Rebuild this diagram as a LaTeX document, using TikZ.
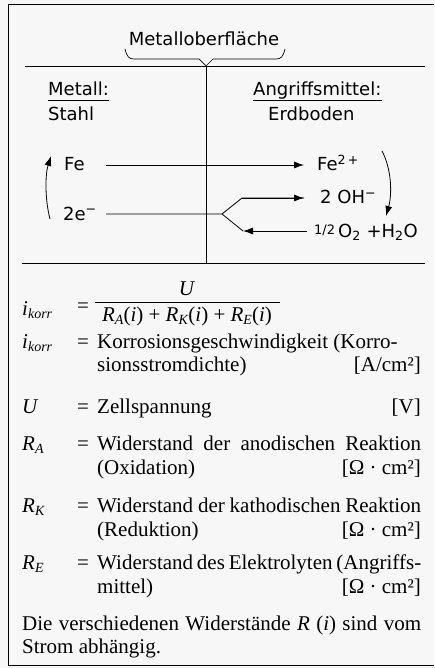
\documentclass[tikz,border=0pt]{standalone}
\usepackage{fontspec}
\setmainfont{Liberation Serif}
\newfontfamily\lab{DejaVu Sans}
\usetikzlibrary{arrows.meta}
\tikzset{
  lbl/.style={font=\lab\fontsize{18}{20}\selectfont, inner sep=0pt, anchor=base west},
  txt/.style={font=\fontsize{21}{24}\selectfont, inner sep=0pt, anchor=base west},
  unit/.style={font=\fontsize{21}{24}\selectfont, inner sep=0pt, anchor=base east},
  rule/.style={line width=0.8pt},
  arr/.style={line width=0.8pt, -{Latex[length=10pt,width=7pt]}},
}
\newcommand{\ikorr}{\textit{i}\raisebox{-0.35ex}{\fontsize{14}{14}\selectfont\textit{korr}}}
\newcommand{\Rsub}[1]{\textit{R}\raisebox{-0.4ex}{\fontsize{14}{14}\selectfont\textit{#1}}}
\newcommand{\jl}[2]{\makebox[#1][s]{#2}}
\begin{document}
\begin{tikzpicture}[x=1pt,y=-1pt]
\useasboundingbox[fill=black!3] (0,0) rectangle (434,668);
% frame
\draw[rule] (434,4) -- (8,4) -- (8,665) -- (434,665);
% upper diagram
\coordinate (hl) at (25,66);
\coordinate (hr) at (425,66);
\coordinate (vt) at (206,66);
\coordinate (vb) at (206,263);
\coordinate (bl) at (22,263);
\coordinate (br) at (425,263);
\draw[rule] (hl) -- (hr);
\draw[rule] (bl) -- (br);
\draw[rule] (vt) -- (vb);
\node[lbl, anchor=base] (mo) at (204,46) {Metalloberfläche};
\draw[line width=0.7pt] (125,49) .. controls (127,57) and (129,59) .. (134,59) -- (199,59) -- (vt) -- (213,59) -- (276,59) .. controls (281,59) and (283,57) .. (285,49);
\node[lbl] (met) at (48,96) {Metall:};
\draw[line width=0.7pt] ([yshift=-4pt]met.base west) -- ([yshift=-4pt]met.base east);
\node[lbl] (sta) at (48,121) {Stahl};
\node[lbl] (ang) at (253,96) {Angriffsmittel:};
\draw[line width=0.7pt] ([yshift=-4pt]ang.base west) -- ([yshift=-4pt]ang.base east);
\node[lbl] (erd) at (268,121) {Erdboden};
% reactions
\node[lbl] (fe) at (64,171) {Fe};
\node[lbl] (fe2) at (317,171) {Fe\textsuperscript{2\,+}};
\node[lbl] (e2) at (63,220) {2e\textsuperscript{−}};
\node[lbl] (oh) at (320,204) {2 OH\textsuperscript{−}};
\node[lbl] (o2) at (314,237) {\raisebox{3pt}{\fontsize{13}{13}\selectfont 1/2}\,O\textsubscript{2} +H\textsubscript{2}O};
\coordinate (fa) at (106,165);
\coordinate (fb) at (304,165);
\draw[arr] (fa) -- (fb);
\coordinate (ea) at (106,214);
\coordinate (fork) at (222,214);
\coordinate (up) at (242,198);
\coordinate (ohb) at (304,198);
\coordinate (dn) at (243,231);
\coordinate (o2a) at (307,231);
\draw[rule] (ea) -- (fork) -- (up) -- (ohb);
\draw[arr] (up) -- (ohb);
\draw[rule] (fork) -- (dn);
\draw[arr] (o2a) -- (dn);
\coordinate (lc1) at (50,219);
\coordinate (lc2) at (51,156);
\draw[arr] (lc1) .. controls (45,200) and (45,175) .. (lc2);
\coordinate (rc1) at (382,151);
\coordinate (rc2) at (386,216);
\draw[arr] (rc1) .. controls (392,170) and (392,195) .. (rc2);
% formula
\node[txt] (ik1) at (22,315) {\ikorr};
\node[txt, anchor=base] (eq1) at (83,312) {=};
\coordinate (fl) at (95,302);
\coordinate (fr) at (280,302);
\draw[line width=0.7pt] (fl) -- (fr);
\node[txt, anchor=base] (num) at (187,295) {\textit{U}};
\node[txt, anchor=base] (den) at (187,321) {\Rsub{A}(\textit{i}) + \Rsub{K}(\textit{i}) + \Rsub{E}(\textit{i})};
% definitions
\node[txt] (ik2) at (22,348) {\ikorr};
\node[txt, anchor=base] (eq2) at (83,348) {=};
\node[txt] (d1) at (97,348) {Korrosionsgeschwindigkeit (Korro-};
\node[txt] (d1b) at (97,371) {sionsstromdichte)};
\node[unit] (u1) at (421,371) {[A/cm²]};
\node[txt] (uu) at (22,413) {\textit{U}};
\node[txt, anchor=base] (eq3) at (83,413) {=};
\node[txt] (d2) at (97,413) {Zellspannung};
\node[unit] (u2) at (421,413) {[V]};
\node[txt] (ra) at (22,450) {\Rsub{A}};
\node[txt, anchor=base] (eq4) at (83,450) {=};
\node[txt] (d3) at (97,450) {\jl{324pt}{Widerstand der anodischen Reaktion}};
\node[txt] (d3b) at (97,474) {(Oxidation)};
\node[unit] (u3) at (421,474) {[Ω · cm²]};
\node[txt] (rk) at (22,512) {\Rsub{K}};
\node[txt, anchor=base] (eq5) at (83,512) {=};
\node[txt] (d4) at (97,512) {\jl{324pt}{Widerstand der kathodischen Reaktion}};
\node[txt] (d4b) at (97,536) {(Reduktion)};
\node[unit] (u4) at (421,536) {[Ω · cm²]};
\node[txt] (re) at (22,569) {\Rsub{E}};
\node[txt, anchor=base] (eq6) at (83,569) {=};
\node[txt] (d5) at (97,569) {\jl{324pt}{Widerstand des Elektrolyten (Angriffs-}};
\node[txt] (d5b) at (97,593) {mittel)};
\node[unit] (u5) at (421,593) {[Ω · cm²]};
\node[txt] (n1) at (22,630) {\jl{399pt}{Die verschiedenen Widerstände \textit{R} (\textit{i}) sind vom}};
\node[txt] (n2) at (22,653) {Strom abhängig.};
\end{tikzpicture}
\end{document}
